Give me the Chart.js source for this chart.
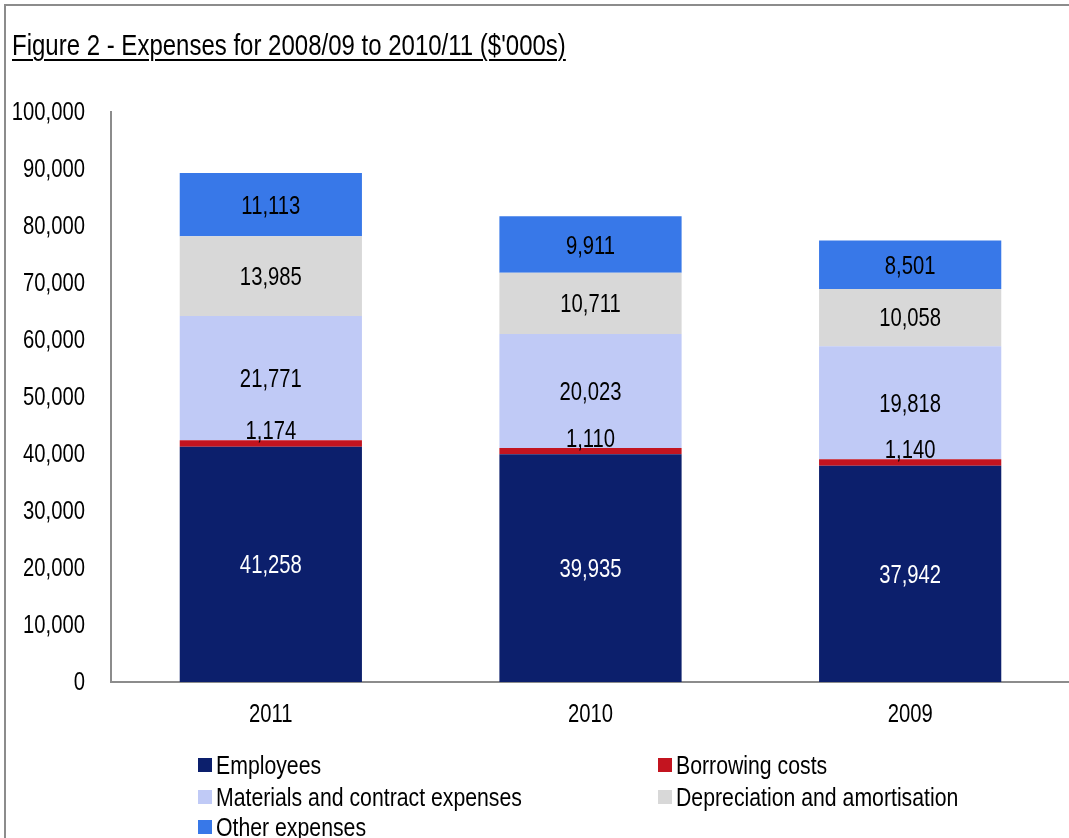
<!DOCTYPE html>
<html>
<head>
<meta charset="utf-8">
<script src="https://cdn.jsdelivr.net/npm/chart.js@4/dist/chart.umd.min.js"></script>
<style>
  html, body { margin: 0; padding: 0; background: #fff; overflow: hidden; }
  body { width: 1069px; height: 838px; position: relative;
         font-family: 'Liberation Sans', Arial, sans-serif; color: #000; }
  #frame { position: absolute; left: 4px; top: 4px; width: 1100px; height: 900px;
           border-left: 2px solid #8c8c8c; border-top: 2px solid #8c8c8c; }
  #wrap { position: absolute; left: 0; top: 0; width: 1080px; height: 838px; }
  #title { position: absolute; left: 12px; top: 28px; font-size: 30px; line-height: 34px;
           white-space: nowrap; transform: scaleX(0.8); transform-origin: 0 0;
           text-decoration: underline; text-underline-offset: 4px; text-decoration-thickness: 2px; }
  #legend { position: absolute; left: 0; top: 0; }
  .item { position: absolute; font-size: 25px; white-space: nowrap; line-height: 28px; height: 28px; }
  .item .box { position: absolute; left: 0; top: 7px; width: 14px; height: 14px; }
  .item .txt { position: absolute; left: 18px; top: 0; transform: scaleX(0.85); transform-origin: 0 0; }
</style>
</head>
<body>
<div id="frame"></div>
<div id="wrap"><canvas id="barChart" width="1080" height="838"></canvas></div>
<div id="title">Figure 2 - Expenses for 2008/09 to 2010/11 ($'000s)</div>
<div id="legend"></div>
<script>
var years = ['2011', '2010', '2009'];
var employees = [41258, 39935, 37942];
var borrowingCosts = [1174, 1110, 1140];
var materials = [21771, 20023, 19818];
var depreciation = [13985, 10711, 10058];
var otherExpenses = [11113, 9911, 8501];
var yMax = 100000;
var yStep = 10000;

var font = "'Liberation Sans', Arial, sans-serif";
var squeeze = 0.81; // horizontal squeeze so the text reads like a narrow face

function fmt(v) {
    return Number(v).toLocaleString('en-US');
}

function narrowText(ctx, text, x, y, align, color) {
    ctx.save();
    ctx.translate(x, y);
    ctx.scale(squeeze, 1);
    ctx.font = '25px ' + font;
    ctx.textAlign = align;
    ctx.textBaseline = 'middle';
    ctx.fillStyle = color || '#000';
    ctx.fillText(text, 0, 0);
    ctx.restore();
}

// axis tick labels, placed from the chart's own scales
var axisLabels = {
    id: 'axisLabels',
    afterDraw: function(chart) {
        var ctx = chart.ctx;
        var ys = chart.scales.y;
        ys.ticks.forEach(function(t) {
            narrowText(ctx, fmt(t.value), ys.right - 26, ys.getPixelForValue(t.value) + 1, 'right');
        });
        var xs = chart.scales.x;
        xs.ticks.forEach(function(t, i) {
            narrowText(ctx, xs.getLabelForValue(t.value), xs.getPixelForTick(i), xs.top + 33, 'center');
        });
    }
};

// value labels in the middle of each segment
var segmentLabels = {
    id: 'segmentLabels',
    afterDatasetsDraw: function(chart) {
        var ctx = chart.ctx;
        chart.data.datasets.forEach(function(ds, i) {
            var meta = chart.getDatasetMeta(i);
            meta.data.forEach(function(bar, j) {
                var y = (bar.y + bar.base) / 2 + 2 + (ds.labelShift || 0);
                narrowText(ctx, fmt(ds.data[j]), bar.x, y, 'center', ds.labelColor);
            });
        });
    }
};

var ctx = document.getElementById('barChart').getContext('2d');
var barChart = new Chart(ctx, {
    type: 'bar',
    data: {
        labels: years,
        datasets: [{
            label: 'Employees',
            data: employees,
            backgroundColor: '#0c1f6c',
            labelColor: '#fff'
        }, {
            label: 'Borrowing costs',
            data: borrowingCosts,
            backgroundColor: '#c3141f',
            labelShift: -13
        }, {
            label: 'Materials and contract expenses',
            data: materials,
            backgroundColor: '#c0caf6'
        }, {
            label: 'Depreciation and amortisation',
            data: depreciation,
            backgroundColor: '#d8d8d8'
        }, {
            label: 'Other expenses',
            data: otherExpenses,
            backgroundColor: '#3878e8'
        }]
    },
    options: {
        responsive: false,
        animation: false,
        layout: { padding: { left: 0, top: 112, right: 10, bottom: 0 } },
        datasets: {
            bar: { barPercentage: 0.57, categoryPercentage: 1, borderWidth: 0 }
        },
        plugins: {
            legend: { display: false },
            title: { display: false },
            tooltip: { enabled: false }
        },
        scales: {
            x: {
                stacked: true,
                grid: { display: false, drawTicks: false },
                border: { display: true, color: '#8c8c8c', width: 2 },
                ticks: { display: false },
                afterFit: function(scale) { scale.height = 156; }
            },
            y: {
                stacked: true,
                min: 0,
                max: yMax,
                grid: { display: false, drawTicks: false },
                border: { display: true, color: '#8c8c8c', width: 2 },
                ticks: { display: false, stepSize: yStep },
                afterFit: function(scale) { scale.width = 111; }
            }
        }
    },
    plugins: [segmentLabels, axisLabels]
});

// two-column legend below the plot
var legendPos = [[198, 751], [658, 751], [198, 783], [658, 783], [198, 813]];
var legend = document.getElementById('legend');
barChart.data.datasets.forEach(function(ds, i) {
    var item = document.createElement('div');
    item.className = 'item';
    item.style.left = legendPos[i][0] + 'px';
    item.style.top = legendPos[i][1] + 'px';
    item.innerHTML = '<span class="box" style="background:' + ds.backgroundColor + '"></span>' +
        '<span class="txt">' + ds.label + '</span>';
    legend.appendChild(item);
});
</script>
</body>
</html>
